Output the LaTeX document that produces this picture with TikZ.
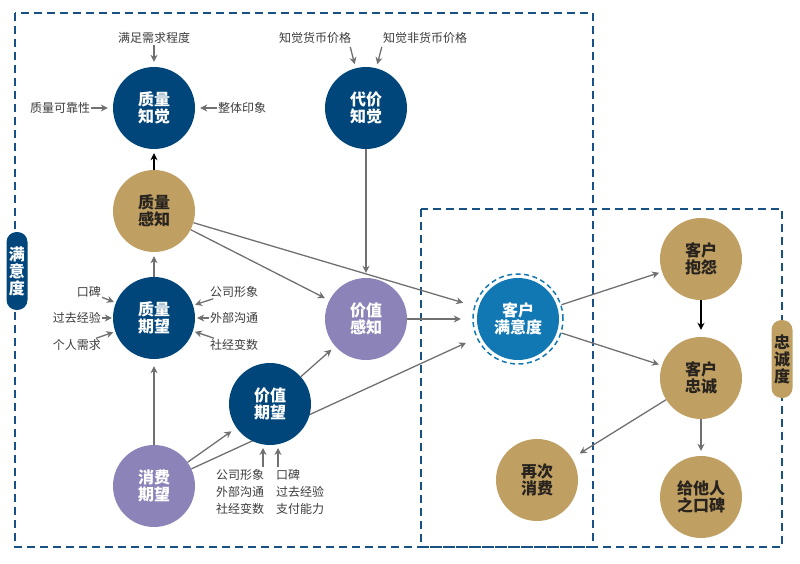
\documentclass[tikz,border=0pt]{standalone}
\usepackage{fontspec}
\setmainfont{Noto Sans CJK SC}
\usetikzlibrary{arrows.meta,backgrounds,calc}
\definecolor{navy}{RGB}{1,70,122}
\definecolor{tanc}{RGB}{191,160,98}
\definecolor{purp}{RGB}{140,132,184}
\definecolor{skyb}{RGB}{18,120,180}
\definecolor{zonecol}{RGB}{24,82,132}
\definecolor{darktext}{RGB}{40,35,30}
\definecolor{labeltext}{RGB}{60,60,60}
\definecolor{arrowgray}{RGB}{112,112,112}
\begin{document}
\begin{tikzpicture}[x=1pt,y=-1pt,
  bubble/.style={circle, minimum size=82pt, inner sep=0pt, align=center, font=\fontsize{16}{17}\selectfont\bfseries},
  navyb/.style={bubble, fill=navy, text=white},
  tanb/.style={bubble, fill=tanc, text=darktext},
  purb/.style={bubble, fill=purp, text=white},
  blueb/.style={bubble, fill=skyb, text=white},
  lbl/.style={font=\fontsize{12}{17}\selectfont, text=labeltext, inner sep=1pt},
  garrow/.style={draw=arrowgray, line width=1.3pt, -{Stealth[length=7pt,width=7pt]}, shorten >=4pt},
  barrow/.style={draw=black, line width=1.3pt, -{Stealth[length=7pt,width=7pt]}, shorten >=4pt},
  zone/.style={draw=zonecol, line width=1.8pt, dash pattern=on 8pt off 5pt},
  pill/.style={rounded corners=10pt, minimum width=21pt, minimum height=78pt, inner sep=0pt, align=center, font=\fontsize{16}{17}\selectfont\bfseries},
]
\useasboundingbox (0,0) rectangle (800,564);
% zones
\draw[zone] (15,13) rectangle (593,547);
\draw[zone] (421,209) rectangle (782,547);
\node[pill, fill=navy, text=white] (sat) at (17,271) {满\\意\\度};
\node[pill, fill=tanc, text=darktext] (loy) at (782,359) {忠\\诚\\度};

% bubbles
\node[navyb] (qp) at (154,108) {质量\\知觉};
\node[navyb] (pp) at (366,108) {代价\\知觉};
\node[tanb]  (qs) at (154,211) {质量\\感知};
\node[navyb] (qe) at (154,318) {质量\\期望};
\node[purb]  (vp) at (366,319) {价值\\感知};
\node[navyb] (ve) at (270,404) {价值\\期望};
\node[purb]  (ce) at (154,486) {消费\\期望};
\node[blueb] (cs) at (518,319) {客户\\满意度};
\node[circle, draw=skyb, line width=1.5pt, dash pattern=on 5pt off 3.5pt, minimum size=90pt, inner sep=0pt] (ring) at (518,319) {};
\node[circle, minimum size=106pt, inner sep=0pt] (csr) at (518,319) {};
\node[tanb]  (ca) at (701,259) {客户\\抱怨};
\node[tanb]  (cl) at (701,378) {客户\\忠诚};
\node[tanb]  (rp) at (537,480) {再次\\消费};
\node[tanb]  (wm) at (701,497) {给他人\\之口碑};

% labels
\node[lbl] (l1) at (154,38) {满足需求程度};
\node[lbl] (l2) at (60,108) {质量可靠性};
\node[lbl] (l3) at (242,108) {整体印象};
\node[lbl] (l4) at (315,38) {知觉货币价格};
\node[lbl] (l5) at (425,38) {知觉非货币价格};
\node[lbl, anchor=east] (k1) at (102,292) {口碑};
\node[lbl, anchor=east] (k2) at (102,318) {过去经验};
\node[lbl, anchor=east] (k3) at (102,345) {个人需求};
\node[lbl, anchor=west] (k4) at (209,292) {公司形象};
\node[lbl, anchor=west] (k5) at (209,318) {外部沟通};
\node[lbl, anchor=west] (k6) at (209,345) {社经变数};
\node[lbl, align=left, anchor=west] (vl) at (215,492) {公司形象\\外部沟通\\社经变数};
\node[lbl, align=left, anchor=west] (vr) at (275,492) {口碑\\过去经验\\支付能力};
\coordinate (va) at (263,467);
\coordinate (vb) at (278,467);

% connectors
\begin{scope}[on background layer]
\draw[garrow] (ce) -- (csr);
\end{scope}
\draw[garrow, shorten >=5pt] (l1) -- (qp);
\draw[garrow, shorten >=5pt] (l2) -- (qp);
\draw[garrow, shorten >=5pt] (l3) -- (qp);
\draw[garrow, shorten >=4pt] ($(l4.south east)+(-2,2)$) -- (pp);
\draw[garrow, shorten >=4pt] ($(l5.south west)+(0,2)$) -- (pp);
\draw[barrow] (qs) -- (qp);
\draw[garrow] (qe) -- (qs);
\draw[garrow, shorten >=7pt] (ce) -- (qe);
\draw[garrow, shorten >=5pt] (pp) -- (vp);
\draw[garrow, shorten >=5pt] (qs) -- (vp);
\draw[garrow] (qs) -- (csr);
\draw[garrow] (vp) -- (csr);
\draw[garrow, shorten >=5pt] (ve) -- (vp);
\draw[garrow, shorten >=6pt] (ce) -- (ve);
\draw[garrow, shorten >=2pt] (k1) -- (qe);
\draw[garrow, shorten >=1pt] (k2) -- (qe);
\draw[garrow, shorten >=2pt] (k3) -- (qe);
\draw[garrow, shorten >=2pt] (k4) -- (qe);
\draw[garrow, shorten >=2pt] (k5) -- (qe);
\draw[garrow, shorten >=2pt] (k6) -- (qe);
\draw[garrow, shorten >=0pt] (va) -- ++(0,-19);
\draw[garrow, shorten >=0pt] (vb) -- ++(0,-19);
\draw[garrow, shorten >=3pt] (ring) -- (ca);
\draw[garrow, shorten >=3pt] (ring) -- (cl);
\draw[barrow, shorten >=7pt] (ca) -- (cl);
\draw[garrow, shorten >=9pt] (cl) -- (rp);
\draw[garrow, shorten >=5pt] (cl) -- (wm);
\end{tikzpicture}
\end{document}
